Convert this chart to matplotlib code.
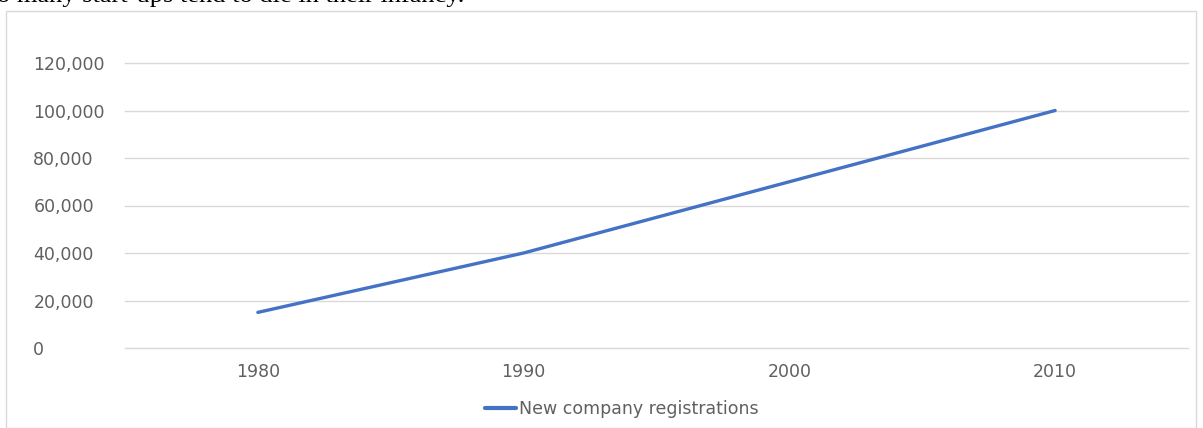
import matplotlib
matplotlib.use("Agg")
import matplotlib.pyplot as plt
from matplotlib.patches import Rectangle

years = ["1980", "1990", "2000", "2010"]
registrations = [15000, 40000, 70000, 100000]
yticks = [0, 20000, 40000, 60000, 80000, 100000, 120000]
ytick_labels = ["0", "20,000", "40,000", "60,000", "80,000", "100,000", "120,000"]
series_name = "New company registrations"
caption = "o many start-ups tend to die in their infancy."

W, H = 1203, 428
fig = plt.figure(figsize=(W / 100, H / 100), dpi=100)
fig.patch.set_facecolor("white")

# chart frame
fig.patches.append(Rectangle((6 / W, 0), (1196 - 6) / W, (H - 11) / H, transform=fig.transFigure,
                             fill=False, edgecolor="#d9d9d9", linewidth=1.0))

# clipped document text on top
fig.text(-3 / W, (H - 2) / H, caption, family="Liberation Serif", fontsize=19,
         ha="left", va="baseline", color="black")

FONT = "DejaVu Sans"
TXT = "#606060"
FS = 12.5

ax = fig.add_axes([125 / W, (H - 348) / H, (1188 - 125) / W, (348 - 63) / H])
x = list(range(len(years)))
ax.plot(x, registrations, color="#4472C4", linewidth=2.4, solid_capstyle="round", label=series_name)
ax.set_xlim(-0.5, len(years) - 0.5)
ax.set_ylim(0, 120000)
ax.set_xticks(x)
ax.set_xticklabels(years)
ax.set_yticks(yticks)
ax.set_yticklabels(ytick_labels)
for s in ax.spines.values():
    s.set_visible(False)
ax.grid(axis="y", color="#d9d9d9", linewidth=1.0)
for gl in ax.get_ygridlines():
    gl.set_clip_on(False)
ax.set_axisbelow(True)
ax.tick_params(axis="both", length=0, colors=TXT, labelsize=FS)
for lab in ax.get_xticklabels() + ax.get_yticklabels():
    lab.set_family(FONT)
ax.tick_params(axis="x", pad=10.5)
ax.tick_params(axis="y", pad=66)
for lab in ax.get_yticklabels():
    lab.set_horizontalalignment("left")

leg = fig.legend(loc="center", bbox_to_anchor=(622 / W, (H - 409) / H), frameon=False,
                 prop={"family": FONT, "size": FS}, handlelength=1.75, handletextpad=0.2)
for line in leg.get_lines():
    line.set_linewidth(3.0)
for t in leg.get_texts():
    t.set_color(TXT)

fig.savefig("out.png", dpi=100)
